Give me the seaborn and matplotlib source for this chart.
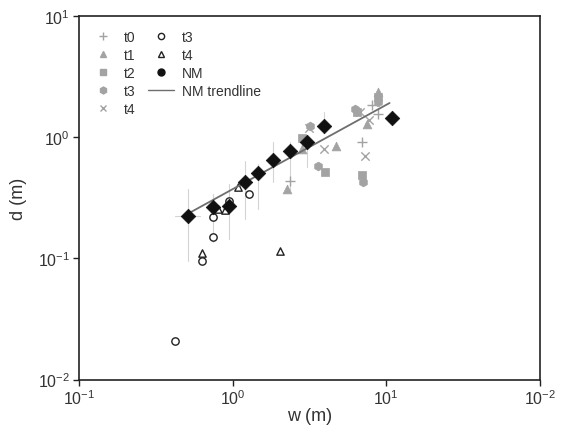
import numpy as np
import pandas as pd
import matplotlib
matplotlib.use("Agg")
import matplotlib.pyplot as plt
from matplotlib.lines import Line2D
from matplotlib.ticker import FixedLocator, FixedFormatter, NullLocator
import seaborn as sns

# ---- data ----
t0_w = [2.36, 6.94, 8.81, 8.05]
t0_d = [0.435, 0.912, 1.55, 1.84]
t1_w = [2.25, 4.70, 2.82, 7.48, 8.81]
t1_d = [0.373, 0.845, 0.798, 1.28, 2.36]
t2_w = [2.82, 3.98, 6.94, 8.81, 6.44]
t2_d = [0.983, 0.515, 0.486, 2.14, 1.61]
t3_w = [3.59, 7.05, 6.25, 8.81, 3.18]
t3_d = [0.578, 0.427, 1.71, 1.95, 1.24]
t4_w = [3.93, 7.26, 3.13, 6.73, 7.71]
t4_d = [0.798, 0.698, 1.19, 1.61, 1.38]

t3o_w = [0.745, 0.745, 0.631, 0.946, 1.28, 0.424]
t3o_d = [0.219, 0.150, 0.095, 0.297, 0.340, 0.0206]
t4o_w = [0.631, 0.891, 1.08, 2.03, 0.802]
t4o_d = [0.111, 0.251, 0.384, 0.115, 0.255]

nm_w = [0.512, 0.745, 0.946, 1.20, 1.46, 1.83, 2.36, 3.04, 3.93, 10.9]
nm_d = [0.223, 0.265, 0.270, 0.427, 0.506, 0.647, 0.767, 0.912, 1.24, 1.44]
nm_lo = [0.095, 0.136, 0.144, 0.211, 0.255, 0.427, 0.356, 0.566, 1.10, 1.30]
nm_hi = [0.373, 0.340, 0.410, 0.635, 0.600, 0.912, 0.912, 1.00, 1.61, 1.60]
nm_wlo = [0.42]
nm_whi = [0.61]

trend_w = [0.51, 10.5]
trend_a, trend_b = 0.372, 0.696

xtick_vals = [0.1, 1, 10, 100]
xtick_labels = [r"$10^{-1}$", r"$10^{0}$", r"$10^{1}$", r"$10^{-2}$"]
ytick_vals = [0.01, 0.1, 1, 10]
ytick_labels = [r"$10^{-2}$", r"$10^{-1}$", r"$10^{0}$", r"$10^{1}$"]

# ---- style ----
sns.set_theme(style="ticks")
plt.rcParams["font.family"] = ["Liberation Sans", "DejaVu Sans"]
plt.rcParams["mathtext.fontset"] = "custom"
plt.rcParams["mathtext.rm"] = "Liberation Sans"
plt.rcParams["mathtext.it"] = "Liberation Sans"
plt.rcParams["mathtext.default"] = "regular"

GREY = "#a3a3a3"
TXT = "#333333"

fig = plt.figure(figsize=(5.66, 4.39), dpi=100)
ax = fig.add_axes([79 / 566, 58.5 / 439, 461 / 566, 363.6 / 439])
ax.set_xscale("log")
ax.set_yscale("log")

# error bars for NM
for w, lo, hi in zip(nm_w, nm_lo, nm_hi):
    ax.plot([w, w], [lo, hi], color="#d4d4d4", lw=0.8, zorder=1)
ax.plot([nm_wlo[0], nm_whi[0]], [nm_d[0], nm_d[0]], color="#d4d4d4", lw=0.8, zorder=1)

# grey series
grey_sets = [
    (t0_w, t0_d, "+", 45),
    (t1_w, t1_d, "^", 40),
    (t2_w, t2_d, "s", 36),
    (t3_w, t3_d, "h", 40),
    (t4_w, t4_d, "x", 36),
]
for w, d, m, s in grey_sets:
    df = pd.DataFrame({"w": w, "d": d})
    if m in ["+", "x"]:
        sns.scatterplot(data=df, x="w", y="d", marker=m, s=s, color=GREY,
                        linewidth=1.0, ax=ax, zorder=2)
    else:
        sns.scatterplot(data=df, x="w", y="d", marker=m, s=s, color=GREY,
                        edgecolor=GREY, linewidth=0.5, ax=ax, zorder=2)

# open markers
df = pd.DataFrame({"w": t3o_w, "d": t3o_d})
sns.scatterplot(data=df, x="w", y="d", marker="o", s=28, facecolor="white",
                edgecolor="#222222", linewidth=1.0, ax=ax, zorder=3)
df = pd.DataFrame({"w": t4o_w, "d": t4o_d})
sns.scatterplot(data=df, x="w", y="d", marker="^", s=28, facecolor="white",
                edgecolor="#222222", linewidth=1.0, ax=ax, zorder=3)

# trendline
tw = np.geomspace(trend_w[0], trend_w[1], 20)
dft = pd.DataFrame({"w": tw, "d": trend_a * tw ** trend_b})
sns.lineplot(data=dft, x="w", y="d", color="#6e6e6e", lw=1.3, ax=ax, zorder=4)

# NM diamonds
df = pd.DataFrame({"w": nm_w, "d": nm_d})
sns.scatterplot(data=df, x="w", y="d", marker="D", s=55, color="#111111",
                edgecolor="#111111", linewidth=0.5, ax=ax, zorder=5)

ax.set_xlim(0.1, 100)
ax.set_ylim(0.01, 10)
ax.xaxis.set_major_locator(FixedLocator(xtick_vals))
ax.xaxis.set_major_formatter(FixedFormatter(xtick_labels))
ax.yaxis.set_major_locator(FixedLocator(ytick_vals))
ax.yaxis.set_major_formatter(FixedFormatter(ytick_labels))
ax.xaxis.set_minor_locator(NullLocator())
ax.yaxis.set_minor_locator(NullLocator())
ax.tick_params(axis="both", which="major", length=4, width=1, color="#222222",
               labelsize=11.5, labelcolor=TXT, direction="out", pad=2.5)
for sp in ax.spines.values():
    sp.set_visible(True)
    sp.set_color("#222222")
    sp.set_linewidth(1.2)

ax.set_xlabel("w (m)", fontsize=13, color=TXT, labelpad=0)
ax.set_ylabel("d (m)", fontsize=13, color=TXT, labelpad=8)

handles = [
    Line2D([], [], marker="+", ls="none", color=GREY, ms=6, mew=1.0),
    Line2D([], [], marker="^", ls="none", color=GREY, ms=5),
    Line2D([], [], marker="s", ls="none", color=GREY, ms=4.5),
    Line2D([], [], marker="h", ls="none", color=GREY, ms=5),
    Line2D([], [], marker="x", ls="none", color=GREY, ms=4.5, mew=1.0),
    Line2D([], [], marker="o", ls="none", mfc="white", mec="#222222", ms=4.5, mew=1.0),
    Line2D([], [], marker="^", ls="none", mfc="white", mec="#222222", ms=4.5, mew=1.0),
    Line2D([], [], marker="o", ls="none", color="#111111", ms=5),
    Line2D([], [], color="#6e6e6e", lw=1.0),
]
labels = ["t0", "t1", "t2", "t3", "t4", "t3", "t4", "NM", "NM trendline"]
leg = ax.legend(handles, labels, ncol=2, loc="upper left", frameon=False,
                fontsize=10, handlelength=1.9, handletextpad=0.55,
                columnspacing=0.85, labelspacing=0.3,
                bbox_to_anchor=(0.0, 0.993), borderaxespad=0.4)
for t in leg.get_texts():
    t.set_color(TXT)

fig.savefig("out.png", dpi=100)
